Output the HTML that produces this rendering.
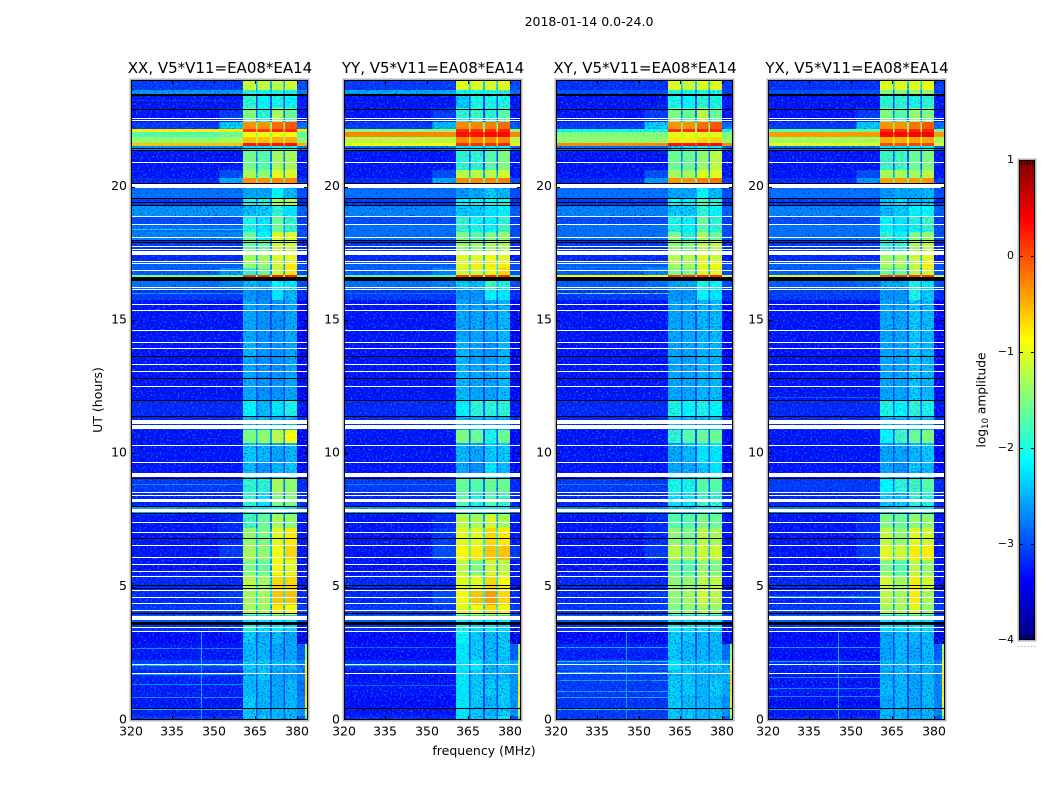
<!DOCTYPE html>
<html lang="en">
<head>
<meta charset="utf-8">
<title>2018-01-14 0.0-24.0</title>
<style>
html,body{margin:0;padding:0;background:#fff;}
svg{display:block;}
text{font-family:"DejaVu Sans","Liberation Sans",sans-serif;fill:#000;}
</style>
</head>
<body>
<svg id="fig" xmlns="http://www.w3.org/2000/svg" width="1050" height="800" viewBox="0 0 1050 800">
  <defs id="defs">
    <filter id="speckleLight" x="0" y="0" width="100%" height="100%" color-interpolation-filters="sRGB">
      <feTurbulence type="fractalNoise" baseFrequency="0.55" numOctaves="1" seed="3"/>
      <feColorMatrix type="matrix" values="0 0 0 0 0.05  0 0 0 0 0.5  0 0 0 0 1  3 0 0 0 -1.5"/>
    </filter>
    <filter id="speckleDark" x="0" y="0" width="100%" height="100%" color-interpolation-filters="sRGB">
      <feTurbulence type="fractalNoise" baseFrequency="0.6" numOctaves="1" seed="11"/>
      <feColorMatrix type="matrix" values="0 0 0 0 0  0 0 0 0 0  0 0 0 0 0.6  2.5 0 0 0 -1.3"/>
    </filter>
  </defs>
  <text x="589" y="26" text-anchor="middle" font-size="12.5">2018-01-14 0.0-24.0</text>
  <text x="484" y="755" text-anchor="middle" font-size="12.5">frequency (MHz)</text>
  <text transform="translate(102 400) rotate(-90)" text-anchor="middle" font-size="12.5">UT (hours)</text>
  <text transform="translate(985.5 400) rotate(-90)" text-anchor="middle" font-size="12.2">log<tspan font-size="8.5" dy="2.5">10</tspan><tspan dy="-2.5"> amplitude</tspan></text>
  <g id="panels"></g>
  <g id="colorbar"></g>
</svg>
<script>
// ----- chart data (all values are log10 amplitude) -----
const panelTitles = ["XX, V5*V11=EA08*EA14", "YY, V5*V11=EA08*EA14", "XY, V5*V11=EA08*EA14", "YX, V5*V11=EA08*EA14"];
const freqTicks = [320, 335, 350, 365, 380];
const hourTicks = [0, 5, 10, 15, 20];
const colorbarTicks = [-4, -3, -2, -1, 0, 1];
// column edges in MHz: background, shoulder, subband 1, gap, subband 2, gap, subband 3, gap, subband 4, tail, edge
const freqEdges = [320, 352, 360.5, 365.2, 365.8, 370.2, 370.9, 375.1, 375.7, 380.1, 383, 384];
// row edges in hours
const hourEdges = [24,23.625,23.475,22.95,22.425,22.163,22.05,21.863,21.638,21.525,21.375,20.625,20.325,20.138,19.95,19.575,19.275,18.9,18.6,18.3,18,17.55,17.175,16.95,16.68,16.463,16.163,15.75,14.25,13.65,12,11.4,10.875,10.4,9.675,9.075,8.55,8.025,7.763,7.2,6.563,6,5.438,4.875,4.313,3.938,3.563,3.3,2.85,2.25,1.875,1.5,0.9,0.488,0.15,0];
// each row: background, shoulder, subband 1-4, tail, optional edge
const valuesXX = [
[-3.1,-3.1,-1.15,-1.15,-1.2,-1.1,-3],[-2.6,-2.6,-1.9,-2,-1.9,-2,-2.7],[-3.3,-3.3,-1.9,-2.1,-2,-2.1,-3.3],[-3.3,-3.1,-1.5,-1.9,-1.3,-1.6,-3.3],
[-3.1,-2.3,-0.35,-0.35,-0.15,-0.05,-2.8],[-0.8,-0.8,0.1,0.1,0.15,0.15,-0.8],[-1.7,-1.6,-0.9,-0.9,-0.9,-0.9,-1.7],[-1.4,-1.3,-0.6,-0.6,-0.5,-0.5,-1.4],
[-0.6,-0.6,0.25,0.25,0.3,0.3,-0.5],[-2.6,-2.6,-2.2,-2.2,-2,-2,-2.7],[-3.3,-3.3,-1.55,-1.7,-1.3,-1.3,-3.3],[-3.3,-3,-1.3,-1.4,-1,-1,-3.3],
[-3.2,-2.5,-0.35,-0.35,-0.3,-0.3,-3.1],[-3.2,-3.2,-2,-2,-2,-2,-3.2],[-2.8,-2.8,-2.5,-2.5,-2.1,-2.4,-3],[-3.1,-3.1,-1.9,-1.9,-1.3,-1.3,-3.2],
[-2.6,-2.6,-2.4,-2.3,-1.9,-2.2,-2.9],[-3,-3,-2,-2.2,-1.6,-1.9,-3.1],[-2.8,-2.8,-2,-2.2,-1.6,-1.9,-3],[-2.7,-2.7,-1.6,-2.1,-1,-1,-3],
[-3.1,-3.1,-1.6,-1.6,-1.1,-1.1,-3.2],[-3.2,-3.2,-1.3,-1.3,-1,-1,-3.3],[-2.9,-2.9,-1.4,-1.4,-1.1,-0.8,-3],[-2.9,-2.6,-1.9,-1.6,-1.1,-0.8,-3],
[-1.5,-1.5,0.1,0.1,0.2,0.2,-1.6],[-2.8,-2.7,-2.4,-2.5,-2.1,-2.2,-3],[-3.1,-3.1,-2.6,-2.7,-2.2,-2.4,-3.2],[-3.3,-3.3,-2.5,-2.6,-2.6,-2.5,-3.4],
[-3.3,-3.3,-2.4,-2.6,-2.6,-2.5,-3.4],[-3.3,-3.3,-2.5,-2.6,-2.6,-2.5,-3.4],[-3.2,-3.2,-2.1,-2.4,-2.2,-2,-3.3],[-3.2,-3.2,-2.4,-2.4,-2.4,-2.4,-3.2],
[-3.3,-3.3,-1.5,-1.4,-1.2,-0.9,-3.4],[-3.3,-3.3,-2.3,-2.4,-2.5,-2.4,-3.4],[-3.3,-3.3,-2.4,-2.6,-2.4,-2.3,-3.4],[-3.1,-3.1,-1.9,-1.9,-1.3,-1.4,-3.2],
[-3.2,-3.2,-1.9,-2.2,-1.5,-1.5,-3.2],[-2.5,-2.5,-2.2,-2.2,-2,-2.2,-2.7],[-3.3,-3.2,-1.8,-1.6,-1.3,-1.4,-3.3],[-3.3,-3.2,-1.4,-1.5,-1,-0.8,-3.3],
[-3.3,-3.1,-1.3,-1.4,-0.9,-0.7,-3.3],[-3.3,-3.3,-1.5,-1.6,-0.9,-1,-3.3],[-3.2,-3.2,-1.2,-1.3,-0.7,-0.7,-3.3],[-3.2,-3.1,-1.3,-1.3,-0.6,-0.6,-3.2],
[-3.1,-3.1,-1.3,-1.3,-0.8,-0.9,-3.1],[-2.9,-2.9,-2.2,-2.2,-2.2,-2.2,-3],[-3.1,-3.1,-2,-2.2,-2.1,-2.2,-3.3],[-3.35,-3.35,-2.3,-2.4,-2.4,-2.5,-3.5,-3.5],
[-3.3,-3.3,-2.4,-2.4,-2.5,-2.5,-2.9,-1.4],[-3.05,-3.05,-2.3,-2.3,-2.4,-2.4,-2.7,-0.9],[-3.2,-3.2,-2.4,-2.3,-2.5,-2.5,-2.7,-0.8],[-3.25,-3.25,-2.4,-2.4,-2.5,-2.4,-2.8,-0.7],
[-3.3,-3.3,-2.3,-2.4,-2.5,-2.4,-2.7,-0.8],[-3.25,-3.25,-2.3,-2.4,-2.4,-2.4,-2.6,-1.2],[-3.1,-3.1,-2.3,-2.3,-2.4,-2.4,-2.9,-1.8],[-3.2,-3.2,-1.1,-1.1,-1.2,-1.2,-3.1,-2]
];
const valuesYY = [
[-3.1,-3.1,-1,-1,-1.05,-1,-3],[-2.5,-2.5,-2,-2,-1.9,-1.9,-2.8],[-3.3,-3.3,-2.3,-2,-2,-2,-3.3],[-3.3,-3.1,-1.9,-1.8,-1.9,-1.7,-3.3],
[-3.1,-2.4,-0.3,-0.3,-0.25,-0.15,-2.9],[-1.4,-1.4,0.15,0.15,0.15,0.2,-1.4],[-0.3,-0.3,0.3,0.3,0.35,0.35,-0.3],[-1.2,-1.2,-0.3,-0.3,-0.3,-0.3,-1.2],
[-0.9,-0.9,0.15,0.15,0.15,0.2,-0.8],[-2.7,-2.7,-2.2,-2.2,-2.1,-2.1,-2.8],[-3.3,-3.3,-1.9,-1.9,-1.7,-1.5,-3.3],[-3.3,-3,-1.2,-1.2,-1.2,-1.1,-3.3],
[-3.2,-2.5,-0.3,-0.3,-0.3,-0.25,-3],[-3.2,-3.2,-2,-2,-2,-2,-3.2],[-2.8,-2.8,-2.6,-2.5,-2.3,-2.4,-3],[-3.1,-3.1,-2.1,-2,-2,-1.9,-3.2],
[-2.7,-2.7,-2.3,-2.3,-2.2,-2.1,-2.9],[-3,-3,-1.9,-2.1,-2.1,-1.9,-3.1],[-2.8,-2.8,-1.9,-2,-2.1,-1.8,-3],[-2.8,-2.8,-1.5,-1.7,-1.5,-1.4,-3],
[-3.1,-3.1,-1.4,-1.4,-1.3,-1.3,-3.2],[-3.2,-3.2,-1,-1,-0.9,-1,-3.3],[-2.9,-2.9,-1,-0.8,-0.8,-0.8,-3],[-2.9,-2.7,-1.1,-1.1,-0.9,-0.7,-3],
[-1.7,-1.7,0.1,0.1,0.15,0.15,-1.7],[-2.8,-2.7,-2.3,-2.4,-1.8,-2,-3],[-3.1,-3.1,-2.6,-2.6,-2.1,-2.2,-3.2],[-3.3,-3.3,-2.5,-2.5,-2.5,-2.4,-3.4],
[-3.3,-3.3,-2.4,-2.5,-2.6,-2.4,-3.4],[-3.3,-3.3,-2.4,-2.5,-2.5,-2.4,-3.4],[-3.2,-3.2,-2.1,-1.9,-1.9,-1.9,-3.3],[-3.2,-3.2,-2.4,-2.4,-2.4,-2.4,-3.2],
[-3.3,-3.3,-1.5,-1.6,-2,-1.6,-3.4],[-3.3,-3.3,-2.4,-2.5,-2.3,-2.3,-3.4],[-3.3,-3.3,-2.5,-2.6,-2.2,-2.4,-3.4],[-3.1,-3.1,-1.6,-1.7,-1.6,-1.6,-3.2],
[-3.2,-3.2,-1.7,-2,-1.7,-1.8,-3.2],[-2.5,-2.5,-2.1,-2.1,-2.1,-2.1,-2.7],[-3.3,-3.2,-1.2,-1.3,-1.1,-1.3,-3.3],[-3.3,-3.1,-1,-1,-0.7,-0.8,-3.3],
[-3.3,-3,-0.9,-0.8,-0.6,-0.6,-3.1],[-3.3,-3.3,-1.2,-1.5,-1.1,-1.2,-3.3],[-3.2,-3.2,-1,-1,-0.7,-0.9,-3.3],[-3.2,-3,-0.9,-0.6,-0.4,-0.7,-3.2],
[-3.1,-3.1,-1,-0.9,-0.7,-0.9,-3.1],[-2.9,-2.9,-2.1,-2.1,-2.1,-2.1,-3],[-3.1,-3.1,-2,-2.2,-2.1,-2.2,-3.3],[-3.35,-3.35,-2.1,-2.3,-2.4,-2.3,-3.5,-3.5],
[-3.35,-3.35,-2.2,-2.3,-2.4,-2.3,-2.9,-1.3],[-3.15,-3.15,-2.2,-2.2,-2.4,-2.3,-2.5,-1],[-3.3,-3.3,-2.2,-2.3,-2.4,-2.4,-2.6,-0.9],[-3.3,-3.3,-2.2,-2.3,-2.3,-2.3,-2.6,-0.8],
[-3.35,-3.35,-2.2,-2.3,-2.4,-2.3,-2.6,-0.9],[-3.3,-3.3,-2.2,-2.3,-2.4,-2.3,-2.6,-1.2],[-3.2,-3.2,-2.2,-2.3,-2.3,-2.2,-3,-1.8],[-3.2,-3.2,-1,-1.1,-1.2,-1.1,-3.1,-2]
];
const valuesXY = [
[-3.15,-3.15,-1,-1.1,-1,-1,-3.1],[-3,-3,-1.9,-2,-1.9,-2,-3.1],[-3.3,-3.3,-2,-2.1,-1.9,-2,-3.3],[-3.3,-3.1,-1.5,-1.6,-1.2,-1.6,-3.3],
[-3.1,-2.3,-0.35,-0.35,-0.15,-0.05,-2.8],[-2,-2,0.15,0.15,0.2,0.2,-2],[-1.5,-1.5,-1,-1,-1,-1,-1.5],[-1.4,-1.4,-0.8,-0.8,-0.7,-0.7,-1.4],
[-0.3,-0.3,0.3,0.3,0.35,0.35,-0.3],[-2.8,-2.8,-2.3,-2.2,-2,-2.1,-2.9],[-3.3,-3.3,-1.6,-1.6,-1.4,-1.2,-3.3],[-3.3,-3,-1.3,-1.3,-1,-1,-3.3],
[-3.2,-2.6,-0.35,-0.35,-0.25,-0.2,-3.1],[-3.2,-3.2,-2,-2,-2,-2,-3.2],[-2.8,-2.8,-2.5,-2.5,-2.1,-2.4,-3],[-3.1,-3.1,-2,-2.1,-1.7,-1.9,-3.2],
[-2.7,-2.7,-2.3,-2.3,-1.9,-2.1,-2.9],[-3,-3,-2,-2.1,-1.6,-1.9,-3.1],[-2.8,-2.8,-2,-2.1,-1.7,-1.9,-3],[-2.8,-2.8,-1.5,-1.9,-1.3,-1.6,-3],
[-3.1,-3.1,-1.4,-1.5,-1.2,-1.2,-3.2],[-3.2,-3.2,-1.2,-1.2,-1,-1.1,-3.3],[-2.9,-2.9,-1.3,-1.3,-1,-0.9,-3],[-2.9,-2.7,-1.5,-1.5,-1,-1,-3],
[-0.9,-0.9,0.1,0.1,0.2,0.2,-1],[-2.9,-2.8,-2.5,-2.5,-2,-2.1,-3],[-3.1,-3.1,-2.6,-2.6,-2.1,-2.2,-3.2],[-3.3,-3.3,-2.5,-2.5,-2.4,-2.4,-3.4],
[-3.3,-3.3,-2.5,-2.5,-2.4,-2.4,-3.4],[-3.3,-3.3,-2.5,-2.5,-2.4,-2.4,-3.4],[-3.2,-3.2,-2,-2.1,-2,-2.1,-3.3],[-3.2,-3.2,-2.4,-2.4,-2.4,-2.4,-3.2],
[-3.3,-3.3,-1.9,-1.7,-1.6,-1.6,-3.4],[-3.3,-3.3,-2.5,-2.4,-2.2,-2.2,-3.4],[-3.3,-3.3,-2.5,-2.5,-2.3,-2.2,-3.4],[-3.1,-3.1,-2,-2,-1.7,-1.7,-3.2],
[-3.2,-3.2,-2.2,-2.2,-1.8,-1.9,-3.2],[-2.6,-2.6,-2.3,-2.3,-2.2,-2.2,-2.8],[-3.3,-3.2,-1.7,-1.7,-1.5,-1.6,-3.3],[-3.3,-3.2,-1.4,-1.5,-1.2,-1.3,-3.3],
[-3.3,-3.1,-1.2,-1.3,-1.1,-1.1,-3.3],[-3.3,-3.3,-1.6,-1.7,-1.4,-1.5,-3.3],[-3.2,-3.2,-1.4,-1.4,-1.2,-1.2,-3.3],[-3.2,-3.1,-1.4,-1.3,-1.1,-1.2,-3.2],
[-3.1,-3.1,-1.5,-1.4,-1.3,-1.4,-3.1],[-2.9,-2.9,-2.2,-2.2,-2.2,-2.2,-3],[-3.1,-3.1,-2.1,-2.2,-2.2,-2.2,-3.3],[-3.35,-3.35,-2.3,-2.3,-2.4,-2.4,-3.5,-3.5],
[-3.25,-3.25,-2.3,-2.4,-2.4,-2.4,-2.8,-1.4],[-2.95,-2.95,-2.2,-2.3,-2.3,-2.3,-2.5,-0.9],[-3.05,-3.05,-2.3,-2.3,-2.4,-2.4,-2.4,-0.7],[-3.1,-3.1,-2.3,-2.3,-2.4,-2.3,-2.5,-0.7],
[-3.15,-3.15,-2.3,-2.4,-2.4,-2.4,-2.6,-0.8],[-3.1,-3.1,-2.3,-2.3,-2.4,-2.4,-2.6,-1.1],[-3.1,-3.1,-2.3,-2.3,-2.4,-2.3,-2.9,-1.7],[-3.2,-3.2,-1.1,-1.2,-1.3,-1.2,-3.1,-2.1]
];
const valuesYX = [
[-3.15,-3.15,-1,-1,-1,-0.95,-3.1],[-3,-3,-1.5,-1.5,-1.4,-1.4,-3.1],[-3.3,-3.3,-1.9,-1.9,-2,-1.9,-3.3],[-3.3,-3.1,-1.5,-1.7,-1.4,-1.5,-3.3],
[-3.1,-2.3,-0.35,-0.35,-0.2,-0.05,-2.8],[-1.6,-1.6,0.15,0.15,0.2,0.2,-1.6],[-0.4,-0.4,0.35,0.35,0.4,0.4,-0.4],[-1.3,-1.3,-0.5,-0.5,-0.45,-0.45,-1.3],
[-1,-1,0,0,0.05,0.05,-1],[-2.8,-2.8,-2.2,-2.2,-2.1,-2.1,-2.9],[-3.3,-3.3,-1.8,-1.8,-1.6,-1.5,-3.3],[-3.3,-3,-1.3,-1.3,-1.3,-1.2,-3.3],
[-3.2,-2.6,-0.4,-0.4,-0.4,-0.35,-3.1],[-3.2,-3.2,-2,-2,-2,-2,-3.2],[-2.8,-2.8,-2.6,-2.5,-2.5,-2.4,-3],[-3.1,-3.1,-2.3,-2.2,-2.4,-2.3,-3.2],
[-2.7,-2.7,-2.4,-2.3,-2.1,-2.1,-2.9],[-3,-3,-2.1,-2.2,-2,-1.8,-3.1],[-2.8,-2.8,-2.1,-2.2,-2.1,-1.9,-3],[-2.8,-2.8,-1.9,-2.1,-1.5,-1.4,-3],
[-3.1,-3.1,-1.9,-1.9,-1.3,-1.2,-3.2],[-3.2,-3.2,-1.3,-1.3,-1.1,-1,-3.3],[-2.9,-2.9,-1.3,-1.3,-1.2,-0.8,-3],[-2.9,-2.7,-1.6,-1.6,-1.2,-1.1,-3],
[-1,-1,0.05,0.05,0.1,0.1,-1.1],[-2.9,-2.8,-2.5,-2.5,-2,-2.2,-3],[-3.1,-3.1,-2.6,-2.6,-2,-2.3,-3.2],[-3.3,-3.3,-2.5,-2.5,-2.3,-2.4,-3.4],
[-3.3,-3.3,-2.5,-2.5,-2.3,-2.4,-3.4],[-3.3,-3.3,-2.5,-2.5,-2.3,-2.4,-3.4],[-3.2,-3.2,-2,-2.1,-1.9,-2,-3.3],[-3.2,-3.2,-2.4,-2.4,-2.4,-2.4,-3.2],
[-3.3,-3.3,-2.1,-1.8,-1.6,-1.5,-3.4],[-3.3,-3.3,-2.5,-2.5,-2.4,-2.3,-3.4],[-3.3,-3.3,-2.5,-2.6,-2.3,-2.4,-3.4],[-3.1,-3.1,-2.1,-1.9,-1.8,-1.7,-3.2],
[-3.2,-3.2,-2.3,-2.3,-1.9,-2,-3.2],[-2.7,-2.7,-2.4,-2.3,-2.2,-2.2,-2.9],[-3.3,-3.2,-1.5,-1.6,-1.4,-1.4,-3.3],[-3.3,-3.2,-1.2,-1.4,-1,-1.1,-3.3],
[-3.3,-3.1,-1,-1.1,-0.8,-0.8,-3.3],[-3.3,-3.3,-1.5,-1.7,-1.2,-1.4,-3.3],[-3.2,-3.2,-1.1,-1.3,-0.8,-1.1,-3.3],[-3.2,-3.1,-1.2,-1.3,-0.8,-1.3,-3.2],
[-3.1,-3.1,-1.3,-1.3,-1,-1.4,-3.1],[-2.9,-2.9,-2.2,-2.2,-2.2,-2.2,-3],[-3.1,-3.1,-2.2,-2.2,-2.2,-2.2,-3.3],[-3.35,-3.35,-2.5,-2.4,-2.4,-2.4,-3.5,-3.5],
[-3.35,-3.35,-2.5,-2.4,-2.5,-2.4,-2.9,-1.3],[-3.2,-3.2,-2.4,-2.4,-2.4,-2.4,-2.7,-0.9],[-3.3,-3.3,-2.5,-2.4,-2.5,-2.4,-2.7,-0.8],[-3.3,-3.3,-2.4,-2.4,-2.5,-2.4,-2.7,-0.8],
[-3.35,-3.35,-2.5,-2.4,-2.5,-2.4,-2.7,-0.9],[-3.3,-3.3,-2.4,-2.4,-2.5,-2.4,-2.7,-1.2],[-3.2,-3.2,-2.4,-2.4,-2.4,-2.4,-3,-1.9],[-3.2,-3.2,-1.3,-1.3,-1.4,-1.3,-3.1,-2.2]
];
const panelValues = [valuesXX, valuesYY, valuesXY, valuesYX];
// narrow horizontal RFI streaks: [hour, log10 amplitude]
const streaksXX = [[23.25,-3.1],[16.0,-2.5],[18.4,-2.2],[8.85,-2.6],[4.6,-2.4],[2.7,-2.6],[2.05,-2.4],[1.72,-2.5],[1.35,-2.6],[0.88,-2.6],[0.42,-2.3]];
const streaksYY = [[16.0,-2.8],[8.85,-2.7],[2.72,-2.8],[2.05,-2.5],[1.3,-2.9]];
const streaksXY = [[16.0,-1.5],[17.0,-2.7],[8.85,-2.7],[4.6,-2.4],[2.72,-2.4],[2.2,-2.3],[1.8,-2.4],[1.5,-2.5],[1.1,-2.5],[0.88,-2.4],[0.42,-2.2]];
const streaksYX = [[16.0,-3],[12.1,-2.9],[4.65,-2.5],[2.72,-2.5],[2.2,-2.5],[1.6,-2.6],[1.2,-2.6],[0.9,-2.6],[0.42,-2.4]];
const panelStreaks = [streaksXX, streaksYY, streaksXY, streaksYX];
// narrow vertical RFI: [MHz, log10 amplitude, start hour, end hour]
const spikesXX = [[345.4,-2.4,0,3.3]];
const spikesYY = [];
const spikesXY = [[345.4,-2.5,0,3.3]];
const spikesYX = [[345.4,-2.4,0,3.3]];
const panelSpikes = [spikesXX, spikesYY, spikesXY, spikesYX];
// flagged (blank) times, in hours
const whiteLines = [22.56,22.49,20.91,18.9,18.6,18.1,17.775,17.67,17.23,17.13,16.89,16.24,16.16,15.6,15.36,14.61,14.16,13.94,13.34,13.08,12.51,10.3,9.66,8.54,8.43,7.41,7.04,6.56,6.1,5.86,5.6,5.39,4.86,4.6,4.38,4.11,3.48,3.35,2.09,1.75];
const whiteBands = [[20.09,19.96],[17.59,17.44],[11.25,11.09],[11.06,10.91],[9.27,9.11],[8.28,8.16],[7.92,7.8],[3.91,3.74]];
const blackLines = [23.475,23.45,22.92,21.46,21.38,20.13,19.56,19.44,19.3,18,17.93,13.64,12.81,11.99,11.39,9.06,8.01,7.77,6.81,5.06,4.95,4.01,0.46];
const blackBands = [[16.6,16.45],[3.67,3.55]];

// ----- layout -----
const panelLeft = [131, 344, 556, 768];
const panelWidth = 177, plotTop = 80, plotBottom = 720;
const cbarLeft = 1019, cbarWidth = 16, cbarTop = 160, cbarBottom = 640;
const freqMin = 320, freqMax = 384, hourMin = 0, hourMax = 24, valMin = -4, valMax = 1;
const SVGNS = "http://www.w3.org/2000/svg";

function xScale(f, left) { return left + (f - freqMin) / (freqMax - freqMin) * panelWidth; }
function yScale(h) { return plotBottom - (h - hourMin) / (hourMax - hourMin) * (plotBottom - plotTop); }
function cbarY(v) { return cbarBottom - (v - valMin) / (valMax - valMin) * (cbarBottom - cbarTop); }
function jet(v) {
  const t = Math.max(0, Math.min(1, (v - valMin) / (valMax - valMin)));
  const ch = (p) => Math.round(255 * Math.max(0, Math.min(1, 1.5 - Math.abs(4 * t - p))));
  return "rgb(" + ch(3) + "," + ch(2) + "," + ch(1) + ")";
}
function speckleStrength(v) { return v < -3 ? 1 : v < -2.2 ? 0.85 : v < -1.7 ? 0.4 : 0.12; }
function make(tag, attrs, parent) {
  const el = document.createElementNS(SVGNS, tag);
  for (const k in attrs) el.setAttribute(k, attrs[k]);
  parent.appendChild(el);
  return el;
}

const panelsRoot = document.getElementById("panels");
const defsRoot = document.getElementById("defs");
panelTitles.forEach(function (title, p) {
  const left = panelLeft[p];
  const g = make("g", {}, panelsRoot);
  
  

  const frameBack = make("rect", {x: left - 0.5, y: plotTop - 0.5, width: panelWidth + 1, height: plotBottom - plotTop + 1, fill: "none", stroke: "#b4b4b4", "stroke-width": 2}, g);
  
  

  const cells = make("g", {"shape-rendering": "crispEdges"}, g);
  
  

  const mask = make("mask", {id: "speckleMask" + p, maskUnits: "userSpaceOnUse", x: left, y: plotTop, width: panelWidth, height: plotBottom - plotTop}, defsRoot);

  panelValues[p].forEach(function (row, r) {
    const y0 = Math.round(yScale(hourEdges[r]));
    const y1 = Math.round(yScale(hourEdges[r + 1]));
    const subbandMean = (row[2] + row[3] + row[4] + row[5]) / 4;
    const gap = Math.max(row[0] + 0.3, subbandMean - 1.25);
    const edge = row.length > 7 ? row[7] : row[6];
    const columnValues = [row[0], row[1], row[2], gap, row[3], gap, row[4], gap, row[5], row[6], edge];
    columnValues.forEach(function (v, c) {
      const x0 = xScale(freqEdges[c], left);
      const x1 = xScale(freqEdges[c + 1], left);
      const cell = make("rect", {x: x0.toFixed(2), y: y0, width: (x1 - x0).toFixed(2), height: y1 - y0, fill: jet(v)}, cells);
      
      
      make("rect", {x: x0.toFixed(2), y: y0, width: (x1 - x0).toFixed(2), height: y1 - y0, fill: "#fff", "fill-opacity": speckleStrength(v), "shape-rendering": "crispEdges"}, mask);
    });
  });

  panelStreaks[p].forEach(function (s) {
    const st = make("rect", {x: left, y: Math.round(yScale(s[0])), width: xScale(360.5, left) - left, height: 1, fill: jet(s[1])}, cells);
    
    
  });
  panelSpikes[p].forEach(function (s) {
    const sp = make("rect", {x: xScale(s[0], left), y: yScale(s[3]), width: 1, height: yScale(s[2]) - yScale(s[3]), fill: jet(s[1])}, cells);
    
    
  });

  const noise = make("g", {mask: "url(#speckleMask" + p + ")"}, g);
  
  
  const speckleA = make("rect", {x: left, y: plotTop, width: panelWidth, height: plotBottom - plotTop, filter: "url(#speckleLight)"}, noise);
  
  
  const speckleB = make("rect", {x: left, y: plotTop, width: panelWidth, height: plotBottom - plotTop, filter: "url(#speckleDark)"}, noise);
  
  

  const flags = make("g", {"shape-rendering": "crispEdges"}, g);
  
  
  whiteBands.forEach(function (b) {
    const y0 = Math.round(yScale(b[0]));
    const el = make("rect", {x: left, y: y0, width: panelWidth, height: Math.round(yScale(b[1])) - y0, fill: "#fff"}, flags);
    
    
  });
  whiteLines.forEach(function (h) {
    const el = make("rect", {x: left, y: Math.round(yScale(h)), width: panelWidth, height: 1, fill: "#fff"}, flags);
    
    
  });
  blackBands.forEach(function (b) {
    const y0 = Math.round(yScale(b[0]));
    const el = make("rect", {x: left, y: y0, width: panelWidth, height: Math.round(yScale(b[1])) - y0, fill: "#000"}, flags);
    
    
  });
  blackLines.forEach(function (h) {
    const el = make("rect", {x: left, y: Math.round(yScale(h)), width: panelWidth, height: 1, fill: "#000"}, flags);
    
    
  });

  const frame = make("rect", {x: left + 0.5, y: plotTop + 0.5, width: panelWidth - 1, height: plotBottom - plotTop - 1, fill: "none", stroke: "#000", "stroke-width": 1, "shape-rendering": "crispEdges"}, g);
  
  

  freqTicks.forEach(function (f) {
    const x = Math.round(xScale(f, left)) + 0.5;
    const tb = make("line", {x1: x, x2: x, y1: plotBottom, y2: plotBottom - 4, stroke: "#000"}, g);
    
    
    const tt = make("line", {x1: x, x2: x, y1: plotTop, y2: plotTop + 4, stroke: "#000"}, g);
    
    
    const lab = make("text", {x: x - 0.5, y: plotBottom + 15.5, "text-anchor": "middle", "font-size": 12.5}, g);
    lab.textContent = String(f);
    
    
  });
  hourTicks.forEach(function (h) {
    const y = Math.round(yScale(h)) + (h === 0 ? -0.5 : 0.5);
    const tl = make("line", {x1: left, x2: left + 4, y1: y, y2: y, stroke: "#000"}, g);
    
    
    const tr = make("line", {x1: left + panelWidth, x2: left + panelWidth - 4, y1: y, y2: y, stroke: "#000"}, g);
    
    
    const lab = make("text", {x: left - 4, y: yScale(h) + 3.3, "text-anchor": "end", "font-size": 12.5}, g);
    lab.textContent = String(h);
    
    
  });

  const ttl = make("text", {x: left + panelWidth / 2 + 0.5, y: 73, "text-anchor": "middle", "font-size": 15}, g);
  ttl.textContent = title;
  
  
});

// ----- colorbar -----
const cbar = document.getElementById("colorbar");
const cbarHalo = make("rect", {x: cbarLeft - 0.5, y: cbarTop - 0.5, width: cbarWidth + 1, height: cbarBottom - cbarTop + 1, fill: "none", stroke: "#b4b4b4", "stroke-width": 2}, cbar);


const strips = make("g", {"shape-rendering": "crispEdges"}, cbar);


for (let py = cbarTop; py < cbarBottom; py += 2) {
  const level = valMax - (py + 1 - cbarTop) / (cbarBottom - cbarTop) * (valMax - valMin);
  const strip = make("rect", {x: cbarLeft, y: py, width: cbarWidth, height: 2, fill: jet(level)}, strips);
  
  
}
const cbarFrame = make("rect", {x: cbarLeft + 0.5, y: cbarTop + 0.5, width: cbarWidth - 1, height: cbarBottom - cbarTop - 1, fill: "none", stroke: "#000", "shape-rendering": "crispEdges"}, cbar);


colorbarTicks.forEach(function (v) {
  const y = Math.round(cbarY(v)) + 0.5;
  if (v > valMin && v < valMax) {
    const t1 = make("line", {x1: cbarLeft, x2: cbarLeft + 4, y1: y, y2: y, stroke: "#000"}, cbar);
    
    
    const t2 = make("line", {x1: cbarLeft + cbarWidth - 4, x2: cbarLeft + cbarWidth, y1: y, y2: y, stroke: "#000"}, cbar);
    
    
  }
  const lab = make("text", {x: cbarLeft - 5, y: cbarY(v) + 3, "text-anchor": "end", "font-size": 11}, cbar);
  lab.textContent = String(v).replace("-", "\u2212");
  
  
});
[0, 1, 2, 3, 4].forEach(function (i) {
  const x = cbarLeft + 2.5 + i * 2.8;
  const top = make("line", {x1: x, x2: x, y1: cbarTop, y2: cbarTop + 5, stroke: "#000", "stroke-width": 0.7}, cbar);
  
  
  const bottom = make("line", {x1: x, x2: x, y1: cbarBottom, y2: cbarBottom - 5, stroke: "#000", "stroke-width": 0.7}, cbar);
  
  
});
[0, 1, 2, 3, 4, 5].forEach(function (i) {
  const dot = make("rect", {x: 1018 + i * 3.3, y: 646, width: 1, height: 1, fill: "#999"}, cbar);
  
  
});
</script>
</body>
</html>
